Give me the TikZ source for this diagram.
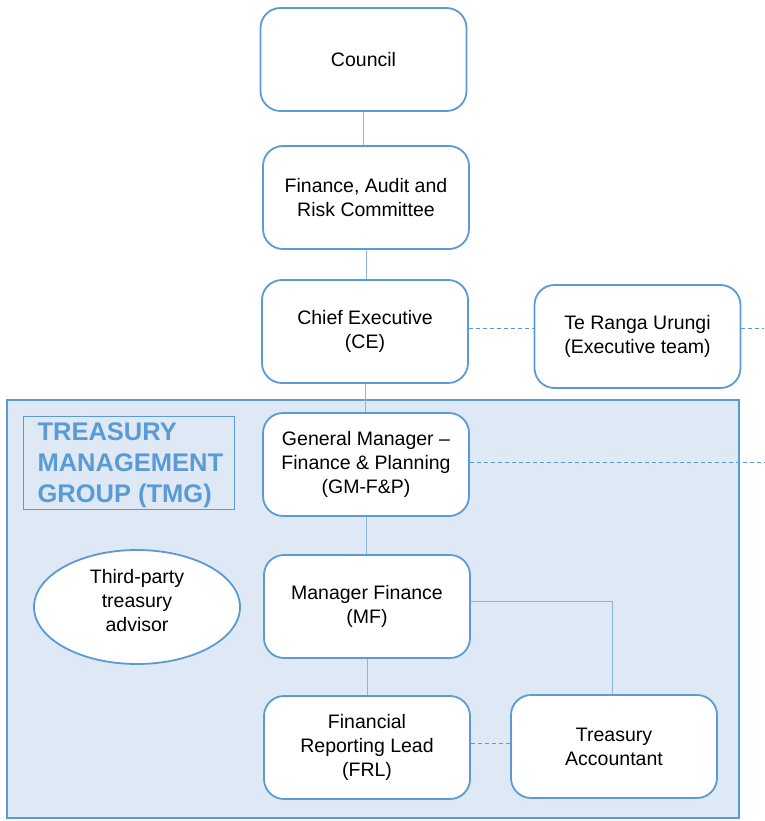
\documentclass[tikz,border=0pt]{standalone}
\usepackage{fontspec}
\setmainfont{Liberation Sans}
\usetikzlibrary{calc,shapes.geometric}
\definecolor{edgeblue}{HTML}{5B9BD5}
\definecolor{linkblue}{HTML}{8DB4E2}
\definecolor{groupfill}{HTML}{DEE9F5}
\tikzset{
  orgbox/.style={draw=edgeblue, line width=1.8pt, fill=white, rounded corners=20pt,
    minimum width=206pt, minimum height=103pt, align=center,
    font=\fontsize{19.5}{24}\selectfont, inner sep=2pt},
  link/.style={draw=linkblue, line width=1pt},
  dashlink/.style={draw=edgeblue, line width=1pt, dash pattern=on 4pt off 3pt}
}
\begin{document}
\begin{tikzpicture}[x=1pt,y=-1pt]
\useasboundingbox (0,0) rectangle (764,821);
% treasury management group area
\draw[draw=edgeblue, line width=1.8pt, fill=groupfill] (7,400) rectangle (739,818);
\node[draw=edgeblue, line width=1.3pt, minimum width=211pt, minimum height=93pt,
      anchor=north west, inner sep=0pt] (tmgbox) at (23,416) {};
\node[anchor=west, align=left, text=edgeblue, font=\bfseries\fontsize{25.5}{31}\selectfont]
  (tmg) at (34,465) {TREASURY\\MANAGEMENT\\GROUP (TMG)};

% hierarchy boxes
\node[orgbox] (council) at (363.5,59.5) {Council};
\node[orgbox] (far) at (366,197.5) {Finance, Audit and\\Risk Committee};
\node[orgbox] (ce) at (365,331.5) {Chief Executive\\(CE)};
\node[orgbox] (te) at (637.5,336.5) {Te Ranga Urungi\\(Executive team)};
\node[orgbox] (gm) at (366,464.5) {General Manager --\\Finance \& Planning\\(GM-F\&P)};
\node[orgbox] (mf) at (367,606.5) {Manager Finance\\(MF)};
\node[orgbox] (frl) at (367,747.5) {Financial\\Reporting Lead\\(FRL)};
\node[orgbox] (ta) at (614,746.5) {Treasury\\Accountant};
\node[draw=edgeblue, line width=1.8pt, fill=white, ellipse, minimum width=206pt,
      minimum height=114pt] (adv) at (137,607) {};
\node[align=center, font=\fontsize{19.5}{24}\selectfont] (advtext)
  at ($(adv)+(0,-6)$) {Third-party\\treasury\\advisor};

\coordinate (rim) at (764,0);

% reporting lines
\draw[link] (council.south) -- (council.south |- far.north);
\draw[link] (far.south) -- (far.south |- ce.north);
\draw[link] (ce.south) -- (ce.south |- gm.north);
\draw[link] (gm.south) -- (gm.south |- mf.north);
\draw[link] (mf.south) -- (mf.south |- frl.north);
\draw[link] ($(mf.east)+(0,-5)$) -| ($(ta.north)+(-2,0)$);

% dotted relationships
\draw[dashlink] ($(ce.east)+(0,-3)$) -- ($(ce.east -| te.west)+(0,-3)$);
\draw[dashlink] ($(te.east)+(0,-8)$) -- ($(te.east -| rim)+(0,-8)$);
\draw[dashlink] ($(gm.east)+(0,-2)$) -- ($(gm.east -| rim)+(0,-2)$);
\draw[dashlink] ($(frl.east)+(0,-4)$) -- ($(frl.east -| ta.west)+(0,-4)$);
\end{tikzpicture}
\end{document}
